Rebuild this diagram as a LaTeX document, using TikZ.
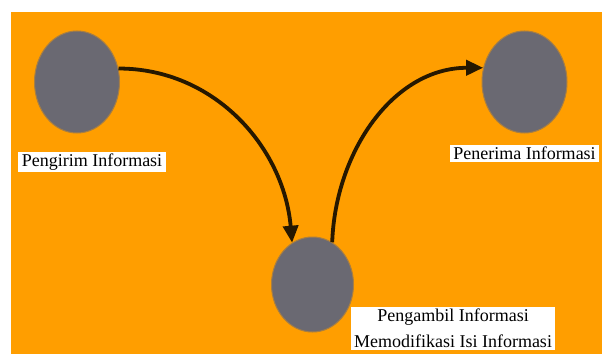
\documentclass[tikz,border=0pt]{standalone}
\usepackage{fontspec}
\setmainfont{Liberation Serif}
\definecolor{bgorange}{RGB}{255,158,0}
\definecolor{entgray}{RGB}{106,105,114}
\usetikzlibrary{shapes.geometric, arrows.meta}

\begin{document}
\begin{tikzpicture}[
  x=1pt, y=1pt,
  ent/.style={ellipse, fill=entgray, draw=entgray!60!bgorange, line width=1pt, inner sep=0pt, minimum width=85pt, minimum height=102pt},
  lbl/.style={fill=white, inner xsep=3.5pt, inner ysep=2pt, align=center, font=\rmfamily\fontsize{18}{26}\selectfont},
  arr/.style={-{Triangle[length=17pt,width=15pt]}, line width=3.8pt, draw=black!85!bgorange}
]
\useasboundingbox (0,0) rectangle (602,354);
\fill[white] (0,0) rectangle (602,354);
\fill[bgorange] (11,0) rectangle (602,342);
\clip (0,0) rectangle (602,354);

% Parties
\node[ent] (sender)      at (77,272)    {};
\node[ent] (receiver)    at (524.5,272) {};
\node[ent, minimum width=82pt, minimum height=95pt] (interceptor) at (312.5,69.5) {};

% Labels
\node[lbl] (senderlbl)   at (92,192)    {Pengirim Informasi};
\node[lbl] (receiverlbl) at (524.5,200.5) {Penerima Informasi};
\node[lbl, anchor=north] (interceptorlbl) at (453,47) {Pengambil Informasi\\Memodifikasi Isi Informasi};

% Flow of the message
\draw[arr] (sender.18) to[out=0, in=95] (interceptor.116);
\draw[arr] (interceptor.65) to[out=88, in=180] (receiver.161);

\end{tikzpicture}
\end{document}
